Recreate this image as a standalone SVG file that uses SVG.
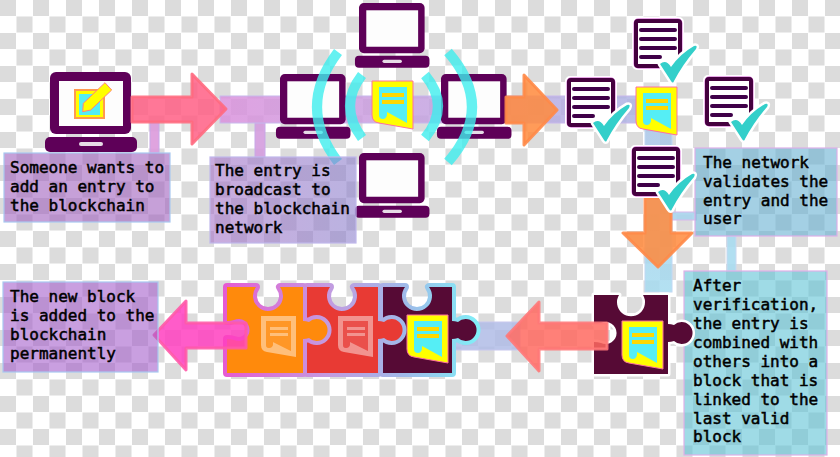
<svg xmlns="http://www.w3.org/2000/svg" xmlns:xlink="http://www.w3.org/1999/xlink" width="840" height="457" viewBox="0 0 840 457">
<style>
text{font-family:"DejaVu Sans Mono","Liberation Mono",monospace;font-size:16px;fill:#000;stroke:#000;stroke-width:.5}
.band{stroke-width:1}
.box{stroke-width:1.2;fill-opacity:.6}
.arrow{stroke-width:3;stroke-linejoin:round;fill-opacity:.85;stroke-opacity:.9}
.wave{fill:none;stroke:#3eeeee;stroke-width:10;stroke-opacity:.8}
.pc{fill:#5e0058}
.link{stroke:url(#chain);stroke-width:8;stroke-linejoin:round;paint-order:stroke}
</style>
<defs>
<pattern id="chk" width="33" height="33" patternUnits="userSpaceOnUse">
<rect width="33" height="33" fill="#fff"/>
<rect width="16" height="16" fill="#dcdcdc"/>
<rect x="16.5" y="16.5" width="16" height="16" fill="#dcdcdc"/>
</pattern>
<linearGradient id="trunk" gradientUnits="userSpaceOnUse" x1="200" y1="0" x2="640" y2="0"><stop offset="0" stop-color="#dc90dc"/><stop offset="1" stop-color="#aeb4e4"/></linearGradient>
<linearGradient id="vert" gradientUnits="userSpaceOnUse" x1="0" y1="125" x2="0" y2="292"><stop offset="0" stop-color="#a9c4e6"/><stop offset="1" stop-color="#a6dcf0"/></linearGradient>
<linearGradient id="box2" x1="0" y1="0" x2="1" y2="0"><stop offset="0" stop-color="#a673c8"/><stop offset="1" stop-color="#8c80cc"/></linearGradient>
<linearGradient id="chain" gradientUnits="userSpaceOnUse" x1="223" y1="0" x2="480" y2="0"><stop offset="0" stop-color="#e65ad2"/><stop offset=".4" stop-color="#c49ae0"/><stop offset=".7" stop-color="#a0b8e8"/><stop offset="1" stop-color="#80f0f8"/></linearGradient>
<g id="laptop">
<rect class="pc" x="0" y="0" width="81" height="62" rx="6"/>
<rect x="9" y="9" width="64" height="45" fill="#fdfdfd"/>
<rect class="pc" x="-5" y="65" width="92" height="15" rx="5"/>
<rect x="29" y="70" width="24" height="4" rx="2" fill="#e6dbe6"/>
</g>
<g id="entry">
<path d="M0 0H41V48L7 42Q0 41 0 34Z" fill="#ffff00" stroke="#ff70a0" stroke-width="1"/>
<path d="M7 6H35V42L15 31V34Q14 38 11 38Q7 38 7 34Z" fill="#55eef5"/>
<rect x="10" y="12" width="22" height="4" fill="#ffd800"/>
<rect x="10" y="19" width="22" height="4" fill="#ffd800"/>
</g>
<g id="faded" opacity=".45">
<path d="M0 0H35V41L6 36Q0 35 0 29ZM5 5V29Q5 32 8 32Q11 32 12 29V26L30 35V5Z" fill="#fff" fill-rule="evenodd"/>
<path d="M5 5H30V35L12 26V29Q11 32 8 32Q5 32 5 29Z" fill="#fff" opacity=".25"/>
<rect x="9" y="11" width="18" height="3" fill="#fff"/>
<rect x="9" y="17" width="18" height="3" fill="#fff"/>
</g>
<g id="doc">
<rect x="0" y="0" width="48" height="49" rx="3" fill="#fff" stroke="#fff" stroke-width="4"/>
<rect x="2" y="2" width="44" height="45" rx="2" fill="#fff" stroke="#d050d0" stroke-width="4.8"/>
<rect x="2" y="2" width="44" height="45" rx="2" fill="#fff" stroke="#45003f" stroke-width="4"/>
<path d="M7 11H41M7 20H41M7 29H41M7 38H26" stroke="#3f0048" stroke-width="4" stroke-linecap="round" fill="none"/>
<path d="M26 45Q32 40 37 48Q46 35 60 27Q64 26 62 30Q49 45 40 62Q39 65 37 62Z" fill="#33cfca" stroke="#fff" stroke-width="5" stroke-linejoin="round" paint-order="stroke"/>
</g>
</defs>
<rect width="840" height="457" fill="url(#chk)"/>

<g id="connectors">
<rect class="band" x="150" y="123" width="9" height="30" fill="#dc9adc" fill-opacity=".9" stroke="#c8a8e8"/>
<rect class="band" x="255" y="123" width="10" height="34" fill="#d49cde" fill-opacity=".9" stroke="#c8a8e8"/>
<rect class="band" x="220" y="96" width="420" height="27" fill="url(#trunk)" fill-opacity=".85" stroke="#c8b8ec"/>
<rect class="band" x="645" y="125" width="27" height="167" fill="url(#vert)" fill-opacity=".85" stroke="#c0d8f4"/>
<rect class="band" x="672" y="212" width="24" height="8" fill="#a8d4ec" fill-opacity=".9" stroke="#d8b8ec"/>
<rect class="band" x="727" y="236" width="9" height="35" fill="#a8dcf0" fill-opacity=".9" stroke="#c8d8f0"/>
<rect class="band" x="452" y="322" width="68" height="28" fill="#b0bce6" fill-opacity=".85" stroke="#c8c8ee"/>
</g>

<g id="laptop-user"><use xlink:href="#laptop" href="#laptop" x="50" y="72"/>
<rect x="75" y="90" width="29" height="28" fill="#ffff00" stroke="#ff9a50" stroke-width="2"/>
<rect x="79" y="94" width="21" height="21" fill="#55eef5"/>
<path d="M82.7 111.7L83.3 103.3L105 82.7L111.7 90L90.7 110Z" fill="#ffff00" stroke="#ff8080" stroke-width="1"/>
</g>
<g id="laptop-top"><use xlink:href="#laptop" href="#laptop" transform="translate(359 3) scale(.81)"/></g>
<g id="laptop-left"><use xlink:href="#laptop" href="#laptop" transform="translate(280 74) scale(.81)"/></g>
<g id="laptop-right"><use xlink:href="#laptop" href="#laptop" transform="translate(441 74) scale(.81)"/></g>
<g id="laptop-bottom"><use xlink:href="#laptop" href="#laptop" transform="translate(359 153) scale(.81)"/></g>

<g id="arrow-1"><path class="arrow" d="M132 97H192V74L226 109L192 144V122H132Z" fill="#ff5f85" stroke="#ff6a80"/></g>
<g id="arrow-2"><path class="arrow" d="M506 97H524V75L557 110L524 145V123H506Z" fill="#ff8a3c" stroke="#ff8a48"/></g>

<g id="broadcast">
<path class="wave" d="M338 52Q296 107 338 162"/>
<path class="wave" d="M362 75Q338 106 362 138"/>
<path class="wave" d="M425 75Q451 106 425 138"/>
<path class="wave" d="M448 52Q496 107 448 162"/>
<use xlink:href="#entry" href="#entry" x="372" y="81"/>
</g>

<g id="arrow-3"><path class="arrow" d="M645 198H671V233H692L658 267L623 233H645Z" fill="#ff8a3c" stroke="#ff8a48"/></g>

<g id="box-validates"><rect class="box" x="695" y="148" width="142" height="88" fill="#67b1d2" stroke="#dcb0e8"/>
<text x="703" y="168">The network</text><text x="703" y="187">validates the</text><text x="703" y="206">entry and the</text><text x="703" y="224">user</text></g>

<g id="validate">
<use xlink:href="#doc" href="#doc" x="634" y="19"/>
<use xlink:href="#doc" href="#doc" x="567" y="78"/>
<use xlink:href="#doc" href="#doc" x="705" y="77"/>
<use xlink:href="#entry" href="#entry" x="636" y="87"/>
<use xlink:href="#doc" href="#doc" x="632" y="147"/>
</g>

<g id="box-verification"><rect class="box" x="684" y="271" width="143" height="184" fill="#5fc3d5" stroke="#e0b0e8"/>
<text x="693" y="291">After</text><text x="693" y="310">verification,</text><text x="693" y="329">the entry is</text><text x="693" y="348">combined with</text><text x="693" y="367">others into a</text><text x="693" y="386">block that is</text><text x="693" y="405">linked to the</text><text x="693" y="424">last valid</text><text x="693" y="442">block</text></g>

<g id="block-new">
<path d="M594 295H619a14 14 0 1 0 24 0H668V324q3 0 6 1a11 11 0 1 1 0 16q-3 1 -6 1V374H594V342q4 0 7 1a11 11 0 1 0 0 -20q-3 1 -7 1Z" fill="#560a35" stroke="#fff" stroke-width="5" stroke-linejoin="round" paint-order="stroke"/>
<use xlink:href="#entry" href="#entry" x="622" y="321"/>
</g>
<g id="arrow-4"><path class="arrow" d="M607 323H539V302L507 336L539 371V349H607Z" fill="#ff6a60" stroke="#ff7878"/></g>

<g id="block-3">
<path class="link" d="M383 287H405a15 15 0 1 0 24 0H452V321q3 0 6 1a11 11 0 1 1 0 16q-3 1 -6 1V373H383V339q4 0 7 1a11 11 0 1 0 0 -20q-3 1 -7 1Z" fill="#560a35"/>
<use xlink:href="#entry" href="#entry" x="407" y="315"/>
</g>
<g id="block-2">
<path class="link" d="M307 287H330a15 15 0 1 0 24 0H378V321q3 0 6 1a11 11 0 1 1 0 16q-3 1 -6 1V373H307V339q4 0 7 1a11 11 0 1 0 0 -20q-3 1 -7 1Z" fill="#e83a34"/>
<use xlink:href="#faded" href="#faded" x="338" y="316"/>
</g>
<g id="block-1">
<path class="link" d="M227 287H256a15 15 0 1 0 24 0H303V321q3 0 6 1a11 11 0 1 1 0 16q-3 1 -6 1V373H227V339q4 0 7 1a11 11 0 1 0 0 -20q-3 1 -7 1Z" fill="#ff8a0c"/>
<use xlink:href="#faded" href="#faded" x="261" y="316"/>
</g>
<g id="arrow-5"><path class="arrow" d="M246 323H186V301L154 335L186 370V348H246Z" fill="#ff40c0" stroke="#ff5aa8"/></g>

<g id="box-someone"><rect class="box" x="4" y="153" width="166" height="69" fill="#a061be" stroke="#a8c8f0"/>
<text x="10" y="173">Someone wants to</text><text x="10" y="192">add an entry to</text><text x="10" y="211">the blockchain</text></g>
<g id="box-broadcast"><rect class="box" x="210" y="157" width="146" height="86" fill="url(#box2)" stroke="#c0b8ec"/>
<text x="215" y="176">The entry is</text><text x="215" y="195">broadcast to</text><text x="215" y="214">the blockchain</text><text x="215" y="233">network</text></g>
<g id="box-added"><rect class="box" x="3" y="282" width="155" height="90" fill="#a55fcb" stroke="#a8c8f0"/>
<text x="10" y="302">The new block</text><text x="10" y="321">is added to the</text><text x="10" y="340">blockchain</text><text x="10" y="359">permanently</text></g>
</svg>
